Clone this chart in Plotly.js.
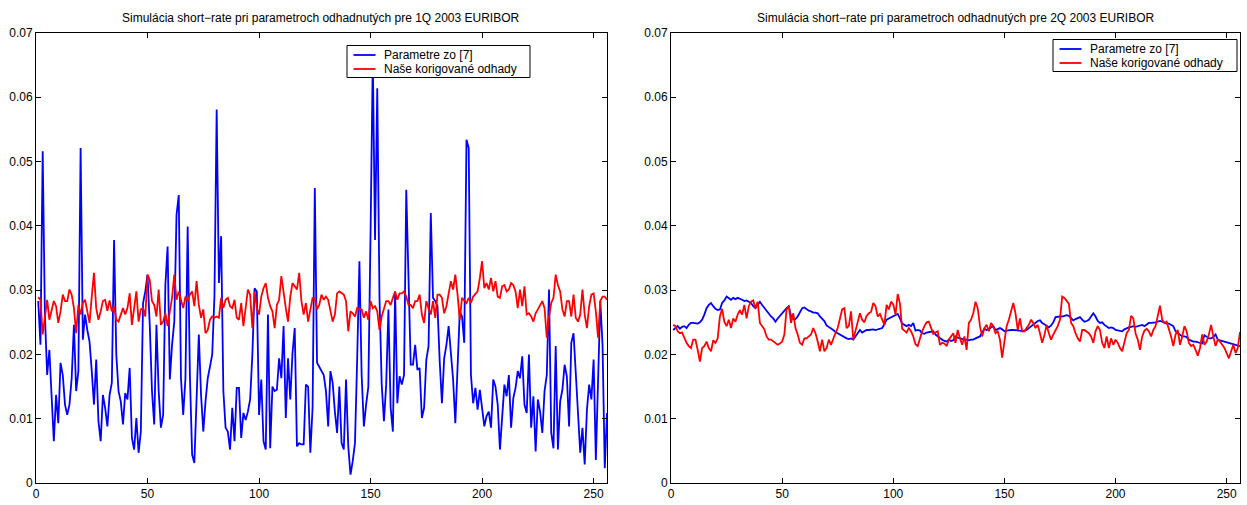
<!DOCTYPE html>
<html>
<head>
<meta charset="utf-8">
<script src="https://cdn.plot.ly/plotly-3.0.1.min.js"></script>
<style>
  html, body { margin: 0; padding: 0; background: #ffffff; }
  #chart { width: 1247px; height: 505px; }
</style>
</head>
<body>
<div id="chart"></div>
<script>
// Simulated short-rate paths, 256 steps each
const seriesNames = ['Parametre zo [7]', 'Naše korigované odhady'];
const panelTitles = [
  'Simulácia short\u2212rate pri parametroch odhadnutých pre 1Q 2003 EURIBOR',
  'Simulácia short\u2212rate pri parametroch odhadnutých pre 2Q 2003 EURIBOR'
];

// 1Q 2003, parameters from [7]
const param7Q1 = [
  0.0283, 0.0215, 0.0516, 0.0260, 0.0168, 0.0207, 0.0135, 0.0065, 0.0137, 0.0093,
  0.0187, 0.0168, 0.0122, 0.0106, 0.0122, 0.0163, 0.0246, 0.0143, 0.0174, 0.0521,
  0.0223, 0.0262, 0.0238, 0.0220, 0.0174, 0.0122, 0.0192, 0.0096, 0.0065, 0.0137,
  0.0117, 0.0088, 0.0137, 0.0156, 0.0378, 0.0200, 0.0143, 0.0127, 0.0091, 0.0140,
  0.0130, 0.0179, 0.0070, 0.0052, 0.0101, 0.0047, 0.0080, 0.0280, 0.0298, 0.0324,
  0.0246, 0.0143, 0.0091, 0.0246, 0.0143, 0.0086, 0.0106, 0.0308, 0.0368, 0.0161,
  0.0215, 0.0251, 0.0417, 0.0448, 0.0163, 0.0106, 0.0163, 0.0399, 0.0168, 0.0044,
  0.0031, 0.0137, 0.0231, 0.0137, 0.0080, 0.0127, 0.0163, 0.0181, 0.0200, 0.0290,
  0.0581, 0.0311, 0.0384, 0.0143, 0.0086, 0.0080, 0.0052, 0.0117, 0.0065, 0.0148,
  0.0148, 0.0070, 0.0109, 0.0098, 0.0111, 0.0130, 0.0200, 0.0303, 0.0298, 0.0106,
  0.0161, 0.0065, 0.0052, 0.0262, 0.0054, 0.0150, 0.0143, 0.0145, 0.0194, 0.0163,
  0.0244, 0.0101, 0.0194, 0.0130, 0.0202, 0.0241, 0.0057, 0.0062, 0.0060, 0.0060,
  0.0153, 0.0150, 0.0047, 0.0117, 0.0459, 0.0187, 0.0181, 0.0176, 0.0168, 0.0143,
  0.0088, 0.0174, 0.0156, 0.0111, 0.0078, 0.0150, 0.0062, 0.0052, 0.0161, 0.0057,
  0.0013, 0.0034, 0.0062, 0.0194, 0.0345, 0.0168, 0.0088, 0.0122, 0.0150, 0.0391,
  0.0661, 0.0378, 0.0614, 0.0288, 0.0153, 0.0096, 0.0153, 0.0270, 0.0117, 0.0080,
  0.0298, 0.0124, 0.0166, 0.0153, 0.0168, 0.0456, 0.0301, 0.0184, 0.0184, 0.0215,
  0.0176, 0.0179, 0.0101, 0.0117, 0.0192, 0.0213, 0.0420, 0.0288, 0.0283, 0.0275,
  0.0189, 0.0124, 0.0194, 0.0215, 0.0244, 0.0202, 0.0161, 0.0093, 0.0168, 0.0267,
  0.0259, 0.0218, 0.0534, 0.0521, 0.0168, 0.0124, 0.0148, 0.0114, 0.0145, 0.0114,
  0.0088, 0.0104, 0.0111, 0.0086, 0.0161, 0.0150, 0.0122, 0.0052, 0.0098, 0.0153,
  0.0135, 0.0168, 0.0086, 0.0132, 0.0148, 0.0174, 0.0163, 0.0197, 0.0122, 0.0109,
  0.0200, 0.0086, 0.0135, 0.0049, 0.0130, 0.0111, 0.0078, 0.0143, 0.0168, 0.0301,
  0.0078, 0.0054, 0.0213, 0.0052, 0.0127, 0.0145, 0.0184, 0.0166, 0.0088, 0.0218,
  0.0233, 0.0168, 0.0111, 0.0047, 0.0086, 0.0029, 0.0114, 0.0153, 0.0130, 0.0192,
  0.0036, 0.0166, 0.0283, 0.0215, 0.0023, 0.0109
];

// 1Q 2003, corrected estimates
const corrQ1 = [
  0.0289, 0.0285, 0.0231, 0.0262, 0.0285, 0.0254, 0.0270, 0.0283, 0.0275, 0.0249,
  0.0267, 0.0293, 0.0283, 0.0283, 0.0301, 0.0293, 0.0272, 0.0233, 0.0277, 0.0262,
  0.0280, 0.0285, 0.0267, 0.0249, 0.0290, 0.0327, 0.0272, 0.0254, 0.0267, 0.0283,
  0.0285, 0.0268, 0.0284, 0.0267, 0.0275, 0.0254, 0.0251, 0.0262, 0.0272, 0.0262,
  0.0272, 0.0295, 0.0246, 0.0272, 0.0298, 0.0251, 0.0270, 0.0272, 0.0259, 0.0324,
  0.0316, 0.0283, 0.0277, 0.0259, 0.0301, 0.0246, 0.0251, 0.0264, 0.0244, 0.0267,
  0.0288, 0.0324, 0.0285, 0.0298, 0.0283, 0.0272, 0.0290, 0.0283, 0.0293, 0.0298,
  0.0275, 0.0314, 0.0277, 0.0257, 0.0270, 0.0233, 0.0238, 0.0254, 0.0259, 0.0257,
  0.0259, 0.0257, 0.0288, 0.0272, 0.0285, 0.0288, 0.0275, 0.0272, 0.0285, 0.0257,
  0.0254, 0.0280, 0.0244, 0.0275, 0.0301, 0.0293, 0.0241, 0.0298, 0.0272, 0.0262,
  0.0290, 0.0303, 0.0311, 0.0288, 0.0275, 0.0267, 0.0241, 0.0277, 0.0285, 0.0322,
  0.0293, 0.0272, 0.0251, 0.0290, 0.0311, 0.0306, 0.0301, 0.0327, 0.0283, 0.0262,
  0.0280, 0.0251, 0.0270, 0.0288, 0.0288, 0.0270, 0.0277, 0.0293, 0.0285, 0.0290,
  0.0285, 0.0270, 0.0251, 0.0262, 0.0295, 0.0298, 0.0295, 0.0293, 0.0283, 0.0236,
  0.0267, 0.0264, 0.0259, 0.0272, 0.0270, 0.0270, 0.0257, 0.0267, 0.0254, 0.0283,
  0.0272, 0.0275, 0.0267, 0.0238, 0.0259, 0.0272, 0.0283, 0.0283, 0.0277, 0.0288,
  0.0298, 0.0285, 0.0295, 0.0295, 0.0298, 0.0290, 0.0277, 0.0277, 0.0272, 0.0283,
  0.0283, 0.0293, 0.0262, 0.0249, 0.0283, 0.0272, 0.0262, 0.0283, 0.0257, 0.0293,
  0.0293, 0.0288, 0.0264, 0.0275, 0.0298, 0.0314, 0.0301, 0.0324, 0.0293, 0.0254,
  0.0288, 0.0283, 0.0280, 0.0288, 0.0280, 0.0290, 0.0295, 0.0298, 0.0319, 0.0345,
  0.0303, 0.0311, 0.0301, 0.0319, 0.0298, 0.0314, 0.0290, 0.0288, 0.0306, 0.0308,
  0.0298, 0.0301, 0.0311, 0.0308, 0.0298, 0.0272, 0.0301, 0.0275, 0.0306, 0.0262,
  0.0264, 0.0259, 0.0251, 0.0264, 0.0270, 0.0277, 0.0283, 0.0272, 0.0226, 0.0259,
  0.0280, 0.0288, 0.0324, 0.0308, 0.0298, 0.0270, 0.0259, 0.0283, 0.0283, 0.0259,
  0.0293, 0.0257, 0.0251, 0.0262, 0.0301, 0.0262, 0.0241, 0.0275, 0.0293, 0.0295,
  0.0267, 0.0226, 0.0283, 0.0290, 0.0290, 0.0285
];

// 2Q 2003, parameters from [7]
const param7Q2 = [
  0.0238, 0.0241, 0.0244, 0.0240, 0.0243, 0.0244, 0.0241, 0.0246, 0.0249, 0.0249,
  0.0248, 0.0248, 0.0250, 0.0254, 0.0262, 0.0272, 0.0277, 0.0280, 0.0275, 0.0271,
  0.0269, 0.0270, 0.0280, 0.0284, 0.0290, 0.0288, 0.0285, 0.0288, 0.0286, 0.0288,
  0.0287, 0.0285, 0.0283, 0.0284, 0.0282, 0.0280, 0.0275, 0.0272, 0.0277, 0.0282,
  0.0277, 0.0272, 0.0267, 0.0263, 0.0259, 0.0256, 0.0251, 0.0256, 0.0260, 0.0264,
  0.0269, 0.0272, 0.0275, 0.0260, 0.0255, 0.0255, 0.0259, 0.0265, 0.0272, 0.0273,
  0.0270, 0.0268, 0.0267, 0.0265, 0.0265, 0.0264, 0.0259, 0.0256, 0.0252, 0.0245,
  0.0243, 0.0240, 0.0238, 0.0235, 0.0233, 0.0230, 0.0229, 0.0227, 0.0225, 0.0224,
  0.0225, 0.0223, 0.0228, 0.0233, 0.0238, 0.0234, 0.0236, 0.0238, 0.0238, 0.0239,
  0.0239, 0.0238, 0.0239, 0.0240, 0.0241, 0.0247, 0.0254, 0.0256, 0.0258, 0.0259,
  0.0262, 0.0263, 0.0256, 0.0248, 0.0246, 0.0244, 0.0246, 0.0244, 0.0249, 0.0237,
  0.0238, 0.0237, 0.0233, 0.0232, 0.0234, 0.0235, 0.0236, 0.0236, 0.0231, 0.0228,
  0.0226, 0.0223, 0.0221, 0.0220, 0.0223, 0.0221, 0.0222, 0.0228, 0.0226, 0.0225,
  0.0223, 0.0223, 0.0223, 0.0222, 0.0223, 0.0223, 0.0225, 0.0227, 0.0228, 0.0234,
  0.0240, 0.0238, 0.0239, 0.0242, 0.0244, 0.0238, 0.0240, 0.0241, 0.0239, 0.0236,
  0.0237, 0.0238, 0.0238, 0.0238, 0.0238, 0.0238, 0.0237, 0.0236, 0.0237, 0.0238,
  0.0241, 0.0244, 0.0246, 0.0249, 0.0252, 0.0253, 0.0249, 0.0247, 0.0244, 0.0242,
  0.0245, 0.0250, 0.0258, 0.0259, 0.0259, 0.0259, 0.0260, 0.0261, 0.0260, 0.0256,
  0.0253, 0.0255, 0.0257, 0.0258, 0.0254, 0.0251, 0.0252, 0.0254, 0.0259, 0.0264,
  0.0259, 0.0252, 0.0249, 0.0250, 0.0246, 0.0243, 0.0241, 0.0242, 0.0241, 0.0238,
  0.0237, 0.0236, 0.0236, 0.0239, 0.0241, 0.0242, 0.0243, 0.0244, 0.0243, 0.0244,
  0.0245, 0.0246, 0.0244, 0.0246, 0.0249, 0.0249, 0.0249, 0.0250, 0.0251, 0.0252,
  0.0251, 0.0249, 0.0248, 0.0248, 0.0246, 0.0244, 0.0236, 0.0233, 0.0231, 0.0228,
  0.0228, 0.0227, 0.0223, 0.0221, 0.0220, 0.0220, 0.0219, 0.0218, 0.0217, 0.0230,
  0.0228, 0.0225, 0.0225, 0.0227, 0.0231, 0.0223, 0.0222, 0.0221, 0.0220, 0.0219,
  0.0218, 0.0218, 0.0217, 0.0215, 0.0214, 0.0213
];

// 2Q 2003, corrected estimates
const corrQ2 = [
  0.0246, 0.0244, 0.0236, 0.0233, 0.0234, 0.0225, 0.0218, 0.0213, 0.0210, 0.0223,
  0.0223, 0.0207, 0.0189, 0.0210, 0.0213, 0.0220, 0.0210, 0.0205, 0.0222, 0.0218,
  0.0225, 0.0259, 0.0271, 0.0251, 0.0244, 0.0254, 0.0241, 0.0256, 0.0251, 0.0262,
  0.0269, 0.0262, 0.0277, 0.0256, 0.0275, 0.0282, 0.0284, 0.0272, 0.0282, 0.0249,
  0.0244, 0.0239, 0.0228, 0.0223, 0.0223, 0.0220, 0.0218, 0.0215, 0.0217, 0.0220,
  0.0231, 0.0270, 0.0275, 0.0249, 0.0264, 0.0241, 0.0231, 0.0218, 0.0215, 0.0225,
  0.0225, 0.0228, 0.0231, 0.0241, 0.0233, 0.0220, 0.0205, 0.0223, 0.0205, 0.0210,
  0.0223, 0.0215, 0.0225, 0.0233, 0.0241, 0.0255, 0.0270, 0.0272, 0.0241, 0.0244,
  0.0267, 0.0223, 0.0236, 0.0249, 0.0264, 0.0254, 0.0250, 0.0260, 0.0264, 0.0266,
  0.0280, 0.0275, 0.0259, 0.0263, 0.0253, 0.0246, 0.0277, 0.0270, 0.0282, 0.0278,
  0.0262, 0.0294, 0.0279, 0.0240, 0.0237, 0.0234, 0.0241, 0.0236, 0.0228, 0.0216,
  0.0213, 0.0226, 0.0236, 0.0244, 0.0250, 0.0251, 0.0241, 0.0232, 0.0234, 0.0236,
  0.0215, 0.0218, 0.0217, 0.0213, 0.0223, 0.0228, 0.0233, 0.0218, 0.0238, 0.0225,
  0.0215, 0.0228, 0.0207, 0.0249, 0.0254, 0.0264, 0.0282, 0.0272, 0.0244, 0.0228,
  0.0241, 0.0246, 0.0236, 0.0249, 0.0244, 0.0233, 0.0236, 0.0223, 0.0195, 0.0220,
  0.0244, 0.0254, 0.0267, 0.0280, 0.0264, 0.0238, 0.0256, 0.0236, 0.0236, 0.0241,
  0.0246, 0.0254, 0.0249, 0.0241, 0.0246, 0.0233, 0.0218, 0.0230, 0.0246, 0.0233,
  0.0223, 0.0231, 0.0238, 0.0244, 0.0254, 0.0290, 0.0288, 0.0283, 0.0279, 0.0249,
  0.0244, 0.0233, 0.0225, 0.0220, 0.0238, 0.0238, 0.0236, 0.0233, 0.0228, 0.0218,
  0.0236, 0.0244, 0.0238, 0.0218, 0.0210, 0.0228, 0.0210, 0.0225, 0.0215, 0.0223,
  0.0218, 0.0210, 0.0205, 0.0220, 0.0233, 0.0238, 0.0260, 0.0256, 0.0233, 0.0223,
  0.0207, 0.0228, 0.0237, 0.0240, 0.0236, 0.0228, 0.0238, 0.0244, 0.0262, 0.0276,
  0.0254, 0.0249, 0.0251, 0.0241, 0.0228, 0.0213, 0.0231, 0.0238, 0.0215, 0.0228,
  0.0244, 0.0236, 0.0218, 0.0213, 0.0215, 0.0207, 0.0198, 0.0210, 0.0231, 0.0215,
  0.0220, 0.0231, 0.0246, 0.0228, 0.0213, 0.0223, 0.0220, 0.0215, 0.0210, 0.0202,
  0.0194, 0.0205, 0.0215, 0.0202, 0.0210, 0.0235
];

// Axis ticks
const xTicks = [0, 50, 100, 150, 200, 250];
const yTicks = [0, 0.01, 0.02, 0.03, 0.04, 0.05, 0.06, 0.07];
const yTickText = ['0', '0.01', '0.02', '0.03', '0.04', '0.05', '0.06', '0.07'];

// Time steps 1..N
const steps = param7Q1.map((_, i) => i + 1);

const W = 1247, H = 505;
const FONT = 'Liberation Sans, Arial, Helvetica, sans-serif';
const BLUE = '#0000ff', RED = '#ff0000';
const COLORS = [BLUE, RED];
const LW = 1.8;

// Plot-area pixel boxes
const boxL = { x0: 36, x1: 607 };
const boxR = { x0: 671, x1: 1240 };
const yTop = 33, yBot = 483;

const px = v => v / W;          // pixel -> paper x
const py = v => (H - v) / H;    // pixel -> paper y

const traces = [
  { x: steps, y: param7Q1, name: seriesNames[0], color: BLUE, ax: ['x', 'y'] },
  { x: steps, y: corrQ1, name: seriesNames[1], color: RED, ax: ['x', 'y'] },
  { x: steps, y: param7Q2, name: seriesNames[0], color: BLUE, ax: ['x2', 'y2'] },
  { x: steps, y: corrQ2, name: seriesNames[1], color: RED, ax: ['x2', 'y2'] }
].map(t => ({
  x: t.x, y: t.y, name: t.name, type: 'scatter', mode: 'lines',
  line: { color: t.color, width: LW }, xaxis: t.ax[0], yaxis: t.ax[1],
  showlegend: false, hoverinfo: 'skip'
}));

function xAxis(box, anchor) {
  return {
    domain: [px(box.x0), px(box.x1)],
    anchor: anchor,
    range: [0, 256],
    tickvals: xTicks,
    ticktext: xTicks.map(String),
    ticks: 'inside', ticklen: 5, tickwidth: 1, tickcolor: '#000',
    showline: true, linecolor: '#000', linewidth: 1, mirror: 'ticks',
    showgrid: false, zeroline: false,
    tickfont: { family: FONT, size: 12, color: '#000' },
    fixedrange: true
  };
}
function yAxis(anchor) {
  return {
    domain: [py(yBot), py(yTop)],
    anchor: anchor,
    range: [0, 0.07],
    tickvals: yTicks,
    ticktext: yTickText,
    ticks: 'inside', ticklen: 5, tickwidth: 1, tickcolor: '#000',
    showline: true, linecolor: '#000', linewidth: 1, mirror: 'ticks',
    showgrid: false, zeroline: false,
    tickfont: { family: FONT, size: 12, color: '#000' },
    fixedrange: true
  };
}

// Boxed legend: frame, short line samples and labels
const shapes = [];
const annotations = [];
function addLegend(bx0, by0, bx1, by1) {
  shapes.push({ type: 'rect', xref: 'paper', yref: 'paper',
    x0: px(bx0), x1: px(bx1), y0: py(by1), y1: py(by0),
    line: { color: '#000', width: 1 }, fillcolor: '#ffffff', layer: 'above' });
  const rowY = [by0 + 9.5, by0 + 23.5];
  seriesNames.forEach((name, i) => {
    shapes.push({ type: 'line', xref: 'paper', yref: 'paper',
      x0: px(bx0 + 6.5), x1: px(bx0 + 28.5), y0: py(rowY[i]), y1: py(rowY[i]),
      line: { color: COLORS[i], width: LW }, layer: 'above' });
    annotations.push({ text: name, xref: 'paper', yref: 'paper',
      x: px(bx0 + 35), y: py(rowY[i]), xanchor: 'left', yanchor: 'middle',
      showarrow: false, font: { family: FONT, size: 12, color: '#000' } });
  });
}
addLegend(347, 45.5, 530, 77.5);
addLegend(1053, 39.5, 1237, 71.5);

[boxL, boxR].forEach((box, i) => {
  annotations.push({ text: panelTitles[i], xref: 'paper', yref: 'paper',
    x: px((box.x0 + box.x1) / 2), y: py(18), xanchor: 'center', yanchor: 'middle',
    showarrow: false, font: { family: FONT, size: 12, color: '#000' } });
});

const layout = {
  width: W, height: H,
  margin: { l: 0, r: 0, t: 0, b: 0, pad: 0 },
  paper_bgcolor: '#ffffff', plot_bgcolor: '#ffffff',
  showlegend: false,
  xaxis: xAxis(boxL, 'y'),
  yaxis: yAxis('x'),
  xaxis2: xAxis(boxR, 'y2'),
  yaxis2: yAxis('x2'),
  shapes: shapes,
  annotations: annotations
};

Plotly.newPlot('chart', traces, layout, { staticPlot: true, displayModeBar: false });
</script>
</body>
</html>
